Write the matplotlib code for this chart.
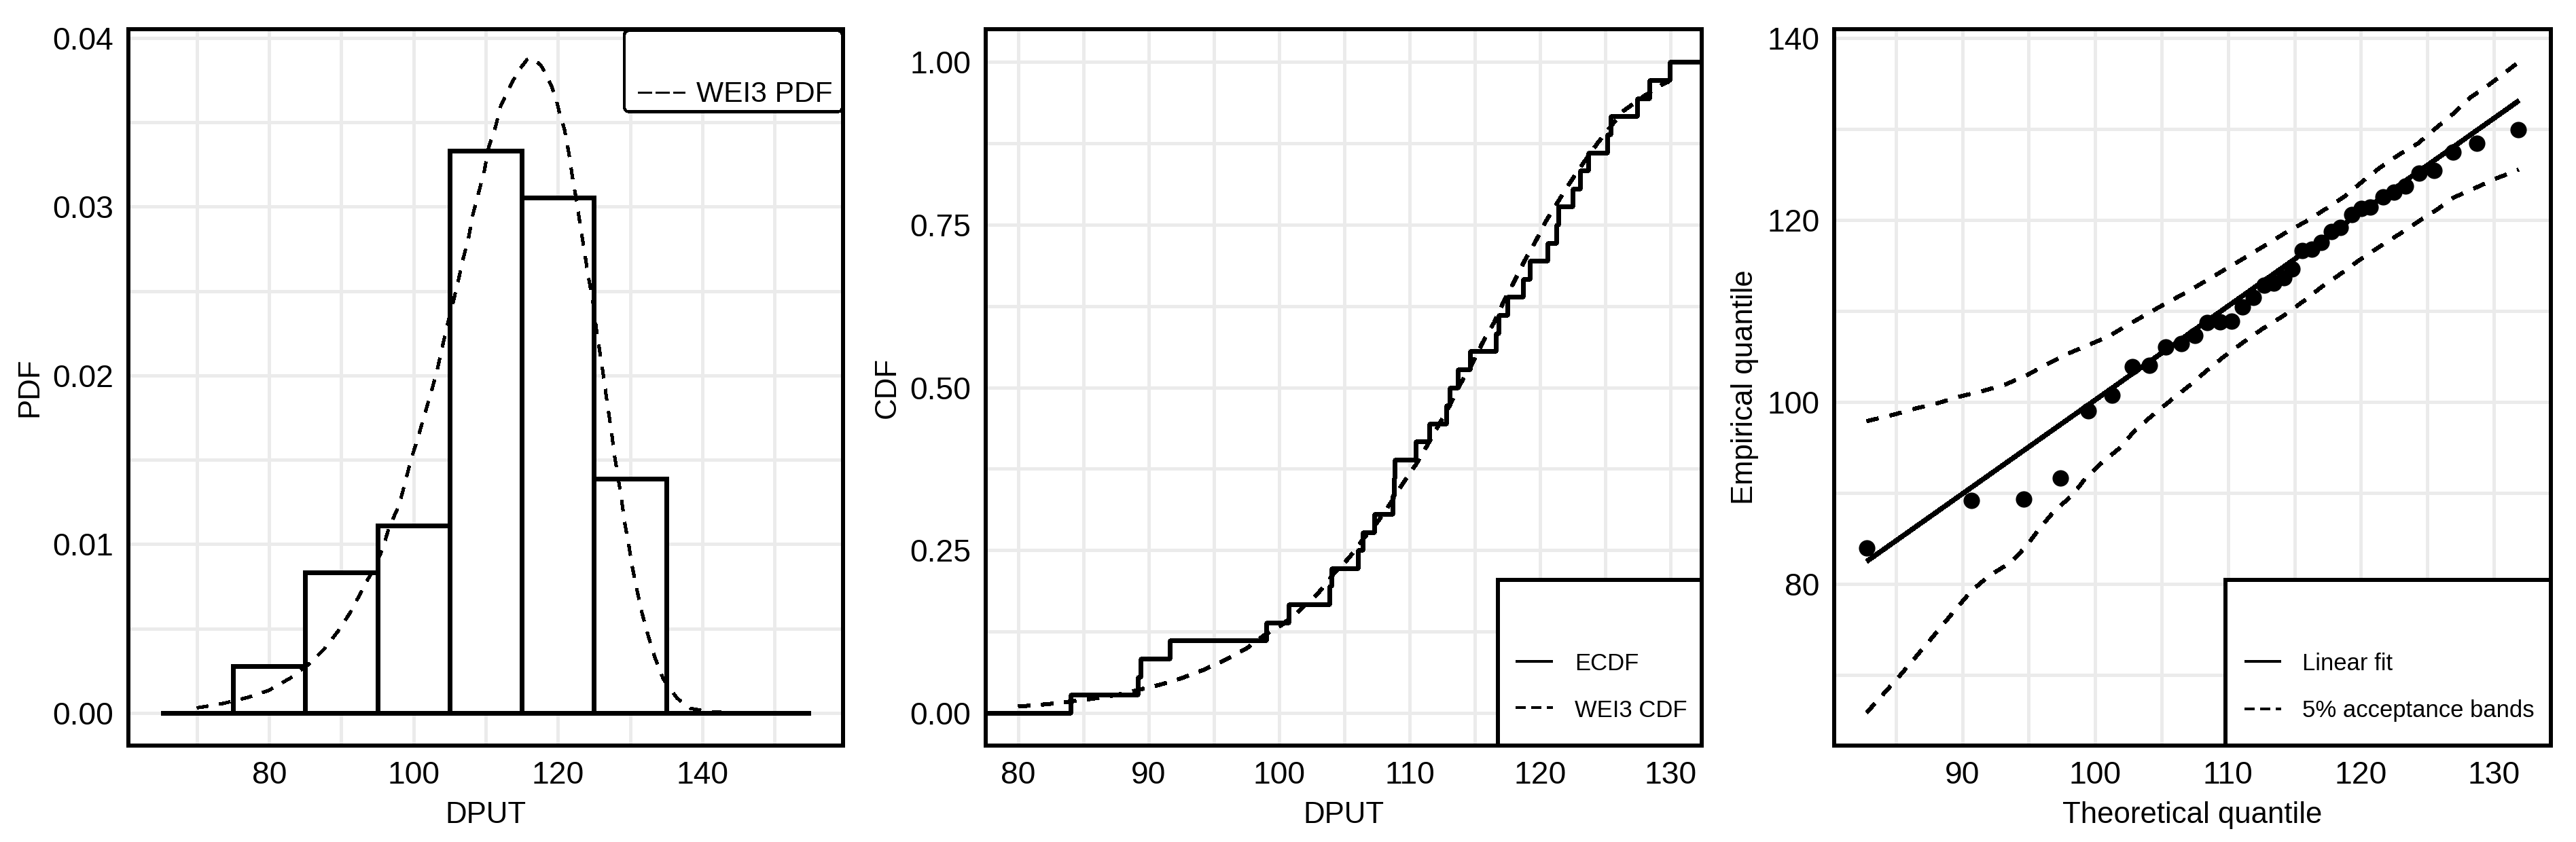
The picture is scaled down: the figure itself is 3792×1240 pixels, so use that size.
import numpy as np
import matplotlib
matplotlib.use("Agg")
import matplotlib.pyplot as plt
from matplotlib.ticker import MultipleLocator, FormatStrFormatter
from matplotlib.patches import FancyBboxPatch, Rectangle
from matplotlib.lines import Line2D

plt.rcParams['font.family'] = ['Liberation Sans', 'DejaVu Sans']
plt.rcParams['lines.antialiased'] = False
plt.rcParams['patch.antialiased'] = False
plt.rcParams['text.antialiased'] = True

# ---------------- data ----------------
dput = [84.0, 89.17, 89.35, 91.63, 99.0, 100.75, 103.85, 104.0, 106.04, 106.42,
        107.3, 108.7, 108.78, 108.85, 110.47, 111.5, 112.8, 113.05, 113.68, 114.64,
        116.6, 116.8, 117.5, 118.7, 119.2, 120.56, 121.25, 121.43, 122.52, 123.07,
        123.7, 125.16, 125.42, 127.47, 128.39, 129.93]
hist_bins = [65, 75, 85, 95, 105, 115, 125, 135, 145, 155]

pdf_x = [70.0, 70.7, 73.8, 77.1, 79.9, 82.9, 85.4, 87.6, 89.6, 91.3, 92.9, 94.4, 95.7, 96.6,
         98.0, 98.8, 99.6, 100.5, 102.44, 103.22, 103.84, 104.63, 105.41, 106.19, 106.8,
         107.6, 108.2, 109.0, 109.8, 110.4, 111.34, 112.1, 112.9, 113.7, 114.6, 115.7,
         116.4, 117.6, 118.16, 119.16, 119.8, 120.25, 120.9, 121.34, 121.66, 122.03, 122.6,
         123.06, 123.4, 123.84, 124.16, 124.8, 125.4, 126.03, 126.46, 126.92, 127.38,
         127.82, 128.28, 128.8, 129.24, 129.8, 130.33, 130.94, 131.66, 132.49, 133.42,
         134.6, 136.5, 138.3, 141.0, 145.0, 155.0]
pdf_y = [0.0003, 0.00034, 0.00057, 0.00092, 0.00132, 0.00205, 0.00285, 0.00377, 0.00487,
         0.00599, 0.00729, 0.00848, 0.00969, 0.01097, 0.01231, 0.01359, 0.01494, 0.01615,
         0.0190, 0.0202, 0.0214, 0.0229, 0.0242, 0.0256, 0.0268, 0.0281, 0.0295, 0.0308,
         0.0321, 0.0335, 0.0347, 0.0360, 0.0367, 0.0374, 0.0381, 0.0387, 0.0388, 0.0384,
         0.0380, 0.0371, 0.0363, 0.0355, 0.0346, 0.0336, 0.0328, 0.0317, 0.0303, 0.0290,
         0.0281, 0.0269, 0.0260, 0.0245, 0.0225, 0.0208, 0.0195, 0.0181, 0.0168, 0.0153,
         0.0141, 0.0127, 0.0113, 0.0100, 0.0086, 0.0073, 0.0059, 0.0046, 0.0033, 0.0020,
         0.00087, 0.00027, 0.00005, 0.0, 0.0]

cdf_x = [80.0, 82.17, 84.0, 85.6, 87.4, 89.1, 90.9, 92.6, 94.2, 95.8, 97.5, 98.9, 100.2,
         101.4, 103.0, 104.2, 105.35, 106.4, 107.5, 108.47, 109.5, 110.47, 111.3, 112.2,
         113.07, 113.85, 114.8, 115.6, 116.46, 117.24, 117.9, 118.8, 119.65, 120.5, 121.4,
         122.34, 123.4, 124.4, 125.5, 126.4, 128.0, 129.5, 129.9]
cdf_y = [0.0097, 0.0132, 0.0174, 0.0215, 0.027, 0.0347, 0.0434, 0.0538, 0.066, 0.0806,
         0.099, 0.12, 0.135, 0.1545, 0.184, 0.214, 0.238, 0.266, 0.292, 0.32, 0.353, 0.381,
         0.409, 0.441, 0.472, 0.504, 0.536, 0.569, 0.599, 0.633, 0.658, 0.694, 0.724, 0.757,
         0.786, 0.816, 0.847, 0.875, 0.903, 0.925, 0.948, 0.967, 0.97]

theo_q = [82.8, 90.67, 94.64, 97.37, 99.5, 101.25, 102.8, 104.1, 105.3, 106.46, 107.48,
          108.45, 109.4, 110.25, 111.06, 111.88, 112.72, 113.43, 114.22, 114.84, 115.57,
          116.32, 117.02, 117.77, 118.45, 119.33, 120.04, 120.72, 121.68, 122.47, 123.34,
          124.4, 125.5, 126.92, 128.72, 131.86]
fit_x = [82.8, 131.9]
fit_y = [82.5, 133.1]
band_up_x = [82.8, 84.8, 86.5, 88.2, 89.8, 91.5, 93.2, 94.8, 96.3, 97.85, 99.4, 101.0, 102.5,
             104.0, 105.4, 107.0, 108.55, 110.06, 111.5, 112.9, 114.4, 115.95, 117.4, 118.8,
             120.1, 121.4, 122.8, 124.3, 125.5, 126.9, 128.2, 129.7, 131.86]
band_up_y = [97.9, 98.6, 99.3, 99.9, 100.6, 101.2, 101.9, 102.9, 104.1, 105.25, 106.2, 107.2,
             108.5, 109.75, 110.9, 112.15, 113.5, 114.8, 116.06, 117.3, 118.65, 119.9, 121.25,
             122.6, 124.2, 125.7, 127.1, 128.4, 129.9, 131.6, 133.4, 134.9, 137.3]
band_lo_x = [82.8, 85.2, 87.3, 89.3, 90.7, 92.0, 93.65, 94.8, 95.8, 96.9, 98.3, 99.3, 100.55,
             101.8, 103.0, 104.2, 105.7, 107.0, 108.4, 109.7, 111.0, 112.55, 114.2, 115.7,
             117.1, 118.6, 119.9, 121.4, 122.85, 124.3, 125.7, 126.9, 128.6, 130.1, 131.86]
band_lo_y = [65.9, 69.8, 73.4, 76.9, 79.3, 80.9, 82.4, 84.15, 86.1, 88.0, 89.8, 91.7, 93.4,
             94.9, 96.9, 98.4, 100.2, 101.7, 103.45, 105.0, 106.4, 108.0, 109.5, 111.1, 112.7,
             114.2, 115.6, 117.05, 118.4, 119.8, 121.1, 122.4, 123.5, 124.5, 125.5]

# ---------------- figure ----------------
W, H, DPI = 3792, 1240, 300
fig = plt.figure(figsize=(W / DPI, H / DPI), dpi=DPI)
fig.patch.set_facecolor('white')


def ax_at(l, t, r, b):
    return fig.add_axes([l / W, 1 - b / H, (r - l) / W, (b - t) / H])


TOP, BOT = 43.5, 1097.7
ax1 = ax_at(189, TOP, 1241, BOT)
ax2 = ax_at(1451, TOP, 2505, BOT)
ax3 = ax_at(2700, TOP, 3755, BOT)

GRID = '#EBEBEB'
TICK_FS = 11.1
LAB_FS = 10.5


def style(ax, mx, nx, my, ny, yfmt=None):
    ax.xaxis.set_major_locator(MultipleLocator(mx))
    ax.xaxis.set_minor_locator(MultipleLocator(nx))
    ax.yaxis.set_major_locator(MultipleLocator(my))
    ax.yaxis.set_minor_locator(MultipleLocator(ny))
    ax.grid(which='major', color=GRID, lw=1.1)
    ax.grid(which='minor', color=GRID, lw=0.75)
    ax.set_axisbelow(True)
    ax.tick_params(which='both', length=0, labelsize=TICK_FS, colors='black')
    ax.tick_params(axis='x', pad=5.4)
    ax.tick_params(axis='y', pad=5.2)
    for s in ax.spines.values():
        s.set_color('black')
        s.set_linewidth(1.05)
    if yfmt:
        ax.yaxis.set_major_formatter(FormatStrFormatter(yfmt))
    ax.xaxis.set_major_formatter(FormatStrFormatter('%d'))


# ---- panel 1: histogram + PDF ----
ax1.hist(dput, bins=hist_bins, density=True, facecolor='white', edgecolor='black',
         linewidth=1.25, joinstyle='miter', zorder=2)
ax1.plot(pdf_x, pdf_y, color='black', lw=1.0, dashes=(4, 4), zorder=3)
ax1.set_xlim(60.5, 159.5)
ax1.set_ylim(-0.00193, 0.0405)
style(ax1, 20, 10, 0.01, 0.005, '%.2f')
ax1.set_xlabel('DPUT', fontsize=LAB_FS, labelpad=3.8)
ax1.set_ylabel('PDF', fontsize=LAB_FS, labelpad=3.0)

# ---- panel 2: ECDF + CDF ----
ax2.set_xlim(77.5, 132.4)
ax2.set_ylim(-0.05, 1.05)
xs = sorted(dput)
n = len(xs)
xl, xr = ax2.get_xlim()
step_x = [xl] + xs + [xr]
step_y = [0.0] + [(i + 1) / n for i in range(n)] + [1.0]
ax2.step(step_x, step_y, where='post', color='black', lw=1.25, zorder=3)
ax2.plot(cdf_x, cdf_y, color='black', lw=1.15, dashes=(3.7, 3.5), zorder=3)
style(ax2, 10, 5, 0.25, 0.125, '%.2f')
ax2.set_xlabel('DPUT', fontsize=LAB_FS, labelpad=3.8)
ax2.set_ylabel('CDF', fontsize=LAB_FS, labelpad=3.0)

# ---- panel 3: QQ plot ----
ax3.plot(band_up_x, band_up_y, color='black', lw=1.1, dashes=(3.8, 3.8), zorder=2)
ax3.plot(band_lo_x, band_lo_y, color='black', lw=1.1, dashes=(3.8, 3.8), zorder=2)
ax3.plot(fit_x, fit_y, color='black', lw=1.5, solid_capstyle='butt', zorder=3)
ax3.plot(theo_q, sorted(dput), 'o', color='black', ms=5.8, mew=0, zorder=4)
ax3.set_xlim(80.35, 134.3)
ax3.set_ylim(62.3, 140.9)
style(ax3, 10, 5, 20, 10)
ax3.yaxis.set_major_formatter(FormatStrFormatter('%d'))
ax3.set_xlabel('Theoretical quantile', fontsize=LAB_FS, labelpad=3.8)
ax3.set_ylabel('Empirical quantile', fontsize=LAB_FS, labelpad=3.0)

# ---------------- legends (drawn in inch coords) ----------------
T = fig.dpi_scale_trans


def px(x, y):
    return x / DPI, (H - y) / DPI


def box(x0, y0, x1, y1, lw, rounded=False):
    bx, by = px(x0, y1)
    w, h = (x1 - x0) / DPI, (y1 - y0) / DPI
    if rounded:
        p = FancyBboxPatch((bx, by), w, h, boxstyle='round,pad=0,rounding_size=0.025',
                           transform=T, facecolor='white', edgecolor='black', lw=lw, zorder=5)
    else:
        p = Rectangle((bx, by), w, h, transform=T, facecolor='white', edgecolor='black',
                      lw=lw, zorder=5, joinstyle='miter')
    fig.add_artist(p)


def handle(x0, x1, y, lw, dashes=None):
    a, b = px(x0, y)
    c, _ = px(x1, y)
    ln = Line2D([a, c], [b, b], transform=T, color='black', lw=lw, zorder=6,
                solid_capstyle='butt', dash_capstyle='butt')
    if dashes:
        ln.set_dashes(dashes)
    fig.add_artist(ln)


def label(x, y, s, fs):
    a, b = px(x, y)
    fig.text(a, b, s, transform=T, fontsize=fs, ha='left', va='baseline', zorder=7)


# panel 1 legend
box(919, 45, 1240, 164.5, 0.8, rounded=True)
handle(939, 1008, 136, 0.65, (7.4, 2.0))
label(1025, 150, 'WEI3 PDF', 10.2)

# panel 2 legend
box(2205, 854, 2505, BOT, 1.0)
handle(2231, 2286, 974.3, 0.85)
handle(2231, 2286, 1042.3, 0.85, (4.2, 2.4))
label(2318, 987, 'ECDF', 8.3)
label(2318, 1055.7, 'WEI3 CDF', 8.3)

# panel 3 legend
box(3276, 854, 3755, BOT, 1.0)
handle(3304, 3358, 974.3, 0.85)
handle(3304, 3358, 1043.9, 0.85, (4.2, 2.4))
label(3389, 987, 'Linear fit', 8.3)
label(3389, 1056, '5% acceptance bands', 8.3)

fig.savefig('out.png', dpi=DPI, facecolor='white')
